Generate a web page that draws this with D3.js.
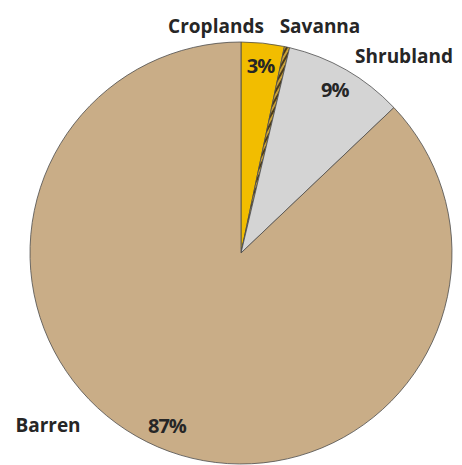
<!DOCTYPE html>
<html>
<head>
<meta charset="utf-8">
<script src="https://cdn.jsdelivr.net/npm/d3@7"></script>
<style>
  body { margin: 0; background: #fff; }
  text { font-family: "Open Sans", Lato, sans-serif; font-weight: bold; fill: #262626; }
</style>
</head>
<body>
<div id="chart"></div>
<script>
// land cover shares (percent), clockwise from 12 o'clock
const categories = ["Croplands", "Savanna", "Shrubland", "Barren"];
const shares = [3.3, 0.4, 9.2, 87.1];
const pctLabels = ["3%", "", "9%", "87%"];

const width = 462, height = 465;
const cx = 241, cy = 253, radius = 211;

const svg = d3.select("#chart")
  .append("svg")
  .attr("width", width)
  .attr("height", height);

// hatch for the tiny savanna slice
const defs = svg.append("defs");
const pat = defs.append("pattern")
  .attr("id", "hatch")
  .attr("patternUnits", "userSpaceOnUse")
  .attr("width", 4)
  .attr("height", 4)
  .attr("patternTransform", "rotate(30)");
pat.append("rect").attr("width", 4).attr("height", 4).attr("fill", "#c9a23a");
pat.append("rect").attr("width", 2).attr("height", 4).attr("fill", "#4a3a1a");

const color = d3.scaleOrdinal()
  .domain(categories)
  .range(["#f2bd00", "url(#hatch)", "#d4d4d4", "#c9ad87"]);

const pie = d3.pie().sort(null).value((d) => d.value);
const arcs = pie(categories.map((c, i) => ({ name: c, value: shares[i], pct: pctLabels[i] })));

const arc = d3.arc().innerRadius(0).outerRadius(radius);
const labelArc = d3.arc().innerRadius(188).outerRadius(188);

const g = svg.append("g").attr("transform", `translate(${cx},${cy})`);

g.selectAll("path")
  .data(arcs)
  .join("path")
  .attr("d", arc)
  .attr("fill", (d) => color(d.data.name))
  .attr("stroke", "#4d4d4d")
  .attr("stroke-width", 0.8);

// percentage labels inside the slices
g.selectAll("text.pct")
  .data(arcs.filter((d) => d.data.pct !== ""))
  .join("text")
  .attr("class", "pct")
  .attr("transform", (d) => `translate(${labelArc.centroid(d)})`)
  .attr("text-anchor", "middle")
  .attr("dy", "0.36em")
  .style("font-size", "20px")
  .style("letter-spacing", "-1px")
  .text((d) => d.data.pct);

// category names, placed by hand like the original
const namePos = { Croplands: [216, 33], Savanna: [320, 33], Shrubland: [404, 63], Barren: [48, 432] };
svg.selectAll("text.name")
  .data(categories)
  .join("text")
  .attr("class", "name")
  .attr("x", (d) => namePos[d][0])
  .attr("y", (d) => namePos[d][1])
  .attr("text-anchor", "middle")
  .style("font-size", "19px")
  .text((d) => d);
</script>
</body>
</html>
